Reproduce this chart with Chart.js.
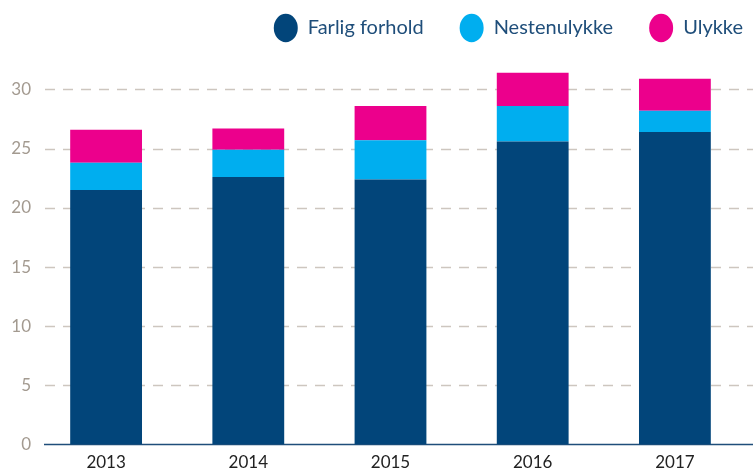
<!DOCTYPE html>
<html>
<head>
<meta charset="utf-8">
<script src="https://cdn.jsdelivr.net/npm/chart.js@4/dist/chart.umd.min.js"></script>
<style>
  html, body { margin: 0; padding: 0; background: #fff; }
  #wrap { width: 753px; height: 473px; }
</style>
</head>
<body>
<div id="wrap"><canvas id="chart"></canvas></div>
<script>
const years = ['2013', '2014', '2015', '2016', '2017'];
const farligForhold = [21.5, 22.6, 22.4, 25.6, 26.4];
const nestenulykke = [2.3, 2.3, 3.3, 3.0, 1.8];
const ulykke = [2.8, 1.8, 2.9, 2.8, 2.7];
const yTicks = [0, 5, 10, 15, 20, 25, 30];

// dashed gridlines run past the bars to the canvas edge, like the original
const gridPlugin = {
  id: 'dashGrid',
  afterLayout(chart) {
    // push the legend against the right edge (line width includes trailing padding)
    const lg = chart.legend;
    const shift = (chart.width + 26) - lg.right;
    lg.left += shift;
    lg.right += shift;
  },
  beforeDatasetsDraw(chart) {
    const ctx = chart.ctx, y = chart.scales.y;
    ctx.save();
    ctx.strokeStyle = '#cdc6bf';
    ctx.lineWidth = 1.5;
    ctx.setLineDash([10, 8]);
    yTicks.forEach(v => {
      if (v === 0) return;
      const py = Math.round(y.getPixelForValue(v)) + 0.5;
      ctx.beginPath();
      ctx.moveTo(45, py);
      ctx.lineTo(753, py);
      ctx.stroke();
    });
    ctx.setLineDash([]);
    ctx.strokeStyle = '#1f4e7a';
    ctx.lineWidth = 1.5;
    const p0 = y.getPixelForValue(0);
    ctx.beginPath();
    ctx.moveTo(44, p0);
    ctx.lineTo(753, p0);
    ctx.stroke();
    ctx.restore();
  }
};

new Chart(document.getElementById('chart'), {
  type: 'bar',
  plugins: [gridPlugin],
  data: {
    labels: years,
    datasets: [
      { label: 'Farlig forhold', data: farligForhold, backgroundColor: '#02457a' },
      { label: 'Nestenulykke', data: nestenulykke, backgroundColor: '#00aeef' },
      { label: 'Ulykke', data: ulykke, backgroundColor: '#ec008c' }
    ]
  },
  options: {
    responsive: true,
    maintainAspectRatio: false,
    animation: false,
    layout: { padding: { left: 0, right: 7, top: -18, bottom: -8 } },
    datasets: {
      bar: { barPercentage: 0.505, categoryPercentage: 1 }
    },
    scales: {
      x: {
        stacked: true,
        grid: { display: false, drawTicks: false },
        border: { display: false },
        ticks: { color: '#222', font: { family: 'Lato', size: 17 }, padding: 8 }
      },
      y: {
        stacked: true,
        min: 0,
        max: 33.5,
        afterFit: s => { s.width = 35; },
        afterBuildTicks: s => { s.ticks = yTicks.map(v => ({ value: v })); },
        grid: { display: false, drawTicks: false },
        border: { display: false },
        ticks: { color: '#a39a90', font: { family: 'Lato', size: 17 }, padding: 4 }
      }
    },
    plugins: {
      tooltip: { enabled: false },
      legend: {
        position: 'top',
        align: 'end',
        labels: {
          usePointStyle: true,
          pointStyle: 'circle',
          pointStyleWidth: 24,
          color: '#1f4e7a',
          font: { family: 'Lato', size: 20 },
          padding: 36
        }
      }
    }
  }
});
</script>
</body>
</html>
